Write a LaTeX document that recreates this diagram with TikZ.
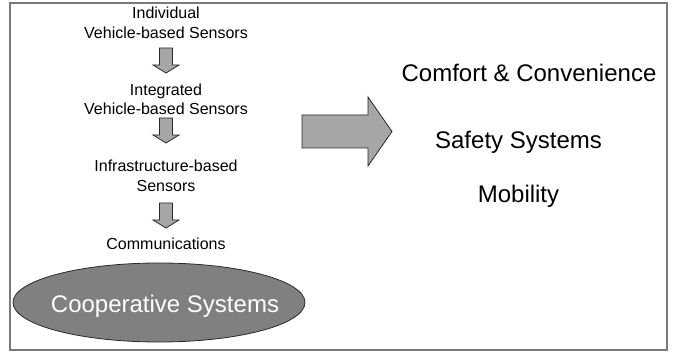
\documentclass[tikz,border=0pt]{standalone}
\usepackage{fontspec}
\setmainfont{Liberation Sans}
\usetikzlibrary{calc, shapes.geometric}
\definecolor{cframe}{HTML}{7A7A7A}
\definecolor{cline}{HTML}{2A2A2A}
\definecolor{carrow}{HTML}{A6A6A6}
\definecolor{coval}{HTML}{808080}
\tikzset{
  every picture/.style={x=1pt, y=-1pt, line width=0.8pt},
  step text/.style={align=center, inner sep=0pt, font=\fontsize{16}{19.5}\selectfont},
  use text/.style={inner sep=0pt, font=\fontsize{24}{28}\selectfont},
  blockarrow/.style={draw=cline, fill=carrow, line join=miter},
  oval/.style={ellipse, draw=cline, fill=coval, inner sep=0pt, minimum width=292pt, minimum height=79pt},
}
\begin{document}
\begin{tikzpicture}
  \newcommand{\dnarrow}[1]{%
    \draw[blockarrow] ($(#1)+(-6.5,-12.5)$) -- ($(#1)+(6.5,-12.5)$) -- ($(#1)+(6.5,4.5)$)
      -- ($(#1)+(13,4.5)$) -- ($(#1)+(0,12.5)$) -- ($(#1)+(-13,4.5)$) -- ($(#1)+(-6.5,4.5)$) -- cycle;}
  \useasboundingbox (0,0) rectangle (674,352);
  \draw[cframe, line width=1.6pt] (10,3) rectangle (667,350);

  % sensor steps
  \node[step text] (indiv) at (166,23)    {Individual\\Vehicle-based Sensors};
  \node[step text] (integ) at (166,99.5)  {Integrated\\Vehicle-based Sensors};
  \node[step text] (infra) at (166,176)   {Infrastructure-based\\Sensors};
  \node[step text] (comm)  at (166,244)   {Communications};
  \coordinate (a1) at (166,60.5);
  \coordinate (a2) at (166,130.5);
  \coordinate (a3) at (166,215.5);
  \dnarrow{a1}
  \dnarrow{a2}
  \dnarrow{a3}

  \node[oval, label={[text=white, font=\fontsize{24}{28}\selectfont, xshift=6pt, yshift=-4pt]center:Cooperative Systems}] (coop) at (159,302.5) {};

  % big arrow
  \coordinate (big) at (302,131.5);
  \draw[blockarrow] ($(big)+(0,-16.5)$) -- ($(big)+(66,-16.5)$) -- ($(big)+(66,-34.5)$)
    -- ($(big)+(90,0)$) -- ($(big)+(66,34.5)$) -- ($(big)+(66,16.5)$) -- ($(big)+(0,16.5)$) -- cycle;

  % applications
  \node[use text] (comf) at (529,73)    {Comfort \& Convenience};
  \node[use text] (safe) at (518.5,142) {Safety Systems};
  \node[use text] (mob)  at (518.5,196) {Mobility};
\end{tikzpicture}
\end{document}
